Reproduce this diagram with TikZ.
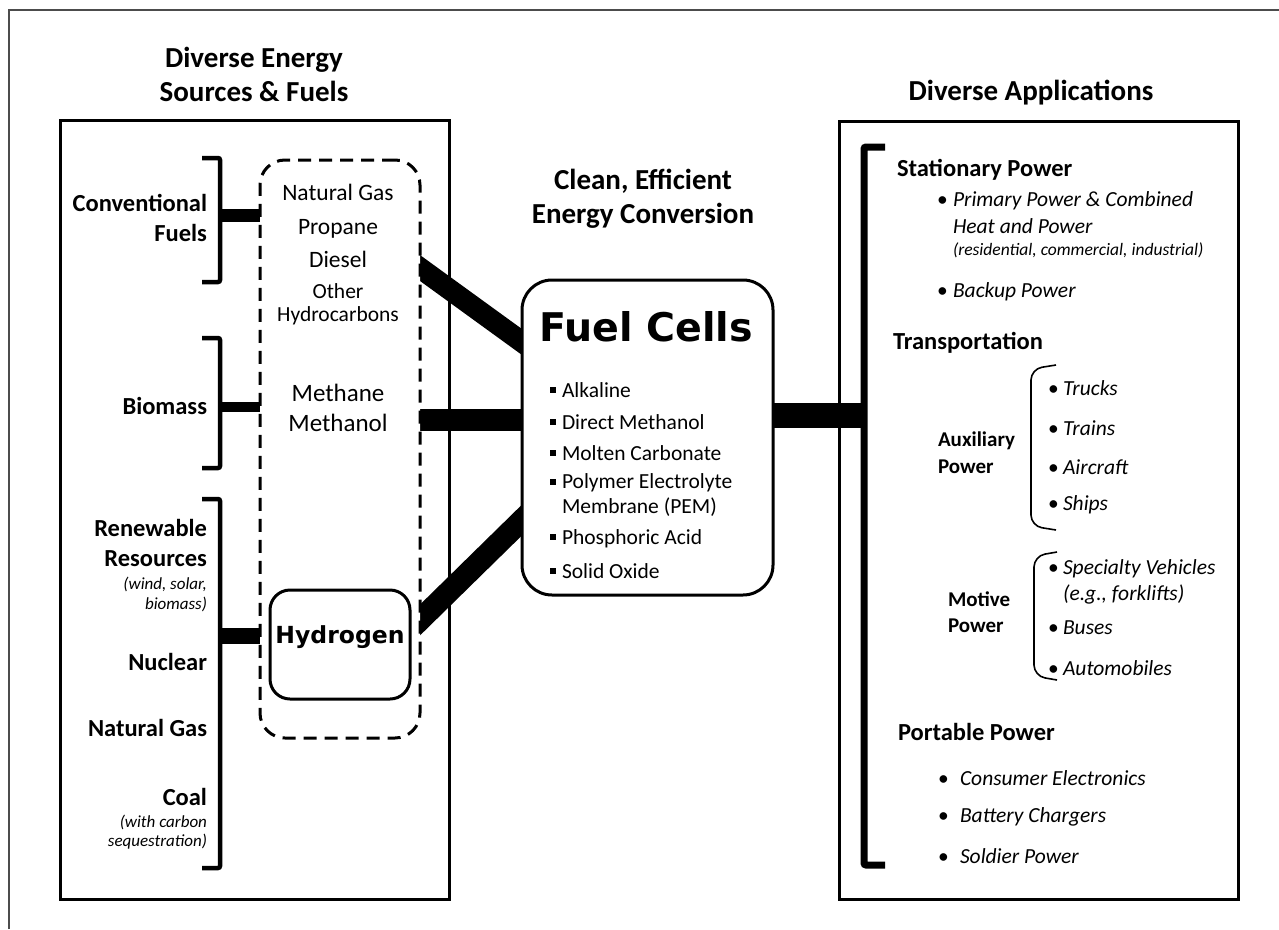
\documentclass[tikz,border=0pt]{standalone}
\usepackage{fontspec}
\setmainfont{Carlito}
\newfontfamily\heavyfont{DejaVu Sans}
\usetikzlibrary{backgrounds,calc}

\newcommand\fsz[2]{\fontsize{#1}{#2}\selectfont}
\newcommand\sqb{\rule[0.2em]{6pt}{6pt}\hspace{6pt}}
\newcommand\dotb[1]{\makebox[#1][l]{\hspace{-3pt}\upshape\textbullet}}

\begin{document}
\begin{tikzpicture}[x=1pt, y=-1pt,
  every node/.style={inner sep=0pt, outer sep=0pt},
  box/.style={draw, line width=3pt},
  bar/.style={line width=#1},
  brk/.style={line width=#1, rounded corners=2pt},
  brace/.style={line width=1.6pt, rounded corners=11pt},
  title/.style={font=\bfseries\fsz{29}{34}, align=center},
  src/.style={font=\bfseries\fsz{24.5}{30}, align=right, anchor=east},
  note/.style={font=\itshape\fsz{17}{20}, align=right, anchor=east},
  head/.style={font=\bfseries\fsz{24.5}{28}, anchor=west},
  sub/.style={font=\bfseries\fsz{21}{27}, anchor=west, align=left},
  item/.style={font=\itshape\fsz{21.5}{27}, anchor=west, align=left},
  fcitem/.style={font=\fsz{21.5}{25}, anchor=west, align=left}]
\useasboundingbox (0,0) rectangle (1279,929);

% outer frame
\draw[black!70, line width=1.5pt] (9,929) -- (9,10) -- (1279,10);

% titles
\node[title] (srctitle) at (254,74) {Diverse Energy\\Sources \& Fuels};
\node[title] (convtitle) at (643,199) {Clean, Efficient\\Energy Conversion};
\node[title] (apptitle) at (1031,93) {Diverse Applications};

% the two big boxes
\node[box, minimum width=389, minimum height=779] (srcbox) at (254.5,509.5) {};
\node[box, minimum width=399, minimum height=778] (appbox) at (1038.5,510) {};

% fuels
\node[draw, line width=3pt, dash pattern=on 13pt off 8pt, rounded corners=25pt,
  fill=white, minimum width=160, minimum height=578] (fuelbox) at (340,449) {};
\node[align=center, font=\fsz{23.5}{33.5}] (fossil) at (338,226) {Natural Gas\\Propane\\Diesel};
\node[align=center, font=\fsz{21.5}{23}] (other) at (338,304) {Other\\Hydrocarbons};
\node[align=center, font=\fsz{25}{30}] (methane) at (338,408) {Methane\\Methanol};
\node[draw, line width=3pt, rounded corners=20pt, minimum width=140, minimum height=109] (h2) at (340,644.5) {};
\node[font=\heavyfont\bfseries\fsz{23.5}{28}] (h2text) at (340,637) {Hydrogen};

% sources
\draw[brk=4.5pt] (202,158) -- (220,158) -- (220,282) -- (202,282);
\draw[brk=4.5pt] (202,338) -- (220,338) -- (220,468) -- (202,468);
\draw[brk=4.5pt] (202,499) -- (220,499) -- (220,868) -- (202,868);
\coordinate (conv) at (220,215);
\coordinate (bio) at (220,407);
\coordinate (ren) at (220,636);
\node[src] (convfuels) at (207,218) {Conventional\\Fuels};
\node[src] (biomass) at (207,406) {Biomass};
\node[src] (renew) at (207,543) {Renewable\\Resources};
\node[note] (renewnote) at (207,594) {(wind, solar,\\biomass)};
\node[src] (nuclear) at (207,662) {Nuclear};
\node[src] (natgas) at (207,728) {Natural Gas};
\node[src] (coal) at (207,797) {Coal};
\node[note, font=\itshape\fsz{17}{19}] (coalnote) at (207,832) {(with carbon\\sequestration)};

% fuel cells
\node[draw, line width=3pt, rounded corners=30pt, fill=white, minimum width=251, minimum height=315] (fc) at (647.5,437.5) {};
\node[font=\heavyfont\bfseries\fsz{39.5}{44}] (fctitle) at (646,327) {Fuel Cells};
\foreach \y/\txt [count=\i] in {390/Alkaline, 422/Direct Methanol, 453/Molten Carbonate, 539/Phosphoric Acid, 571/Solid Oxide}
  \node[fcitem] (type\i) at (550,\y) {\sqb\txt};
\node[fcitem] (pem) at (550,495.5) {\sqb Polymer Electrolyte\\\hspace*{12pt}Membrane (PEM)};

% connectors
\coordinate (ua) at (420,268);
\coordinate (ub) at (522,342);
\coordinate (la) at (420,620);
\coordinate (lb) at (522,520);
\coordinate (ma) at (420,420);
\coordinate (mb) at (522,420);
\coordinate (app) at (864,415);
\begin{scope}[on background layer]
  \draw[bar=13pt] (conv) -- (conv -| fuelbox.west);
  \draw[bar=10pt] (bio) -- (bio -| fuelbox.west);
  \draw[bar=16pt] (ren) -- (ren -| fuelbox.west);
  \draw[bar=21pt] ($(ua)!-0.3!(ub)$) -- ($(ub)!-0.3!(ua)$);
  \draw[bar=22pt] ($(ma)!-0.3!(mb)$) -- ($(mb)!-0.3!(ma)$);
  \draw[bar=22pt] ($(la)!-0.3!(lb)$) -- ($(lb)!-0.3!(la)$);
  \draw[bar=25pt] (fc.east |- app) -- (app);
\end{scope}

% applications
\draw[brk=7pt] (885,147) -- (864,147) -- (864,865) -- (885,865);
\node[head] (stat) at (897,170) {Stationary Power};
\node[item] (primary) at (940,212.5) {\dotb{13pt}Primary Power \& Combined\\\hspace*{13pt}Heat and Power};
\node[item, font=\itshape\fsz{17.5}{20}] (primnote) at (953,250) {(residential, commercial, industrial)};
\node[item] (backup) at (940,292) {\dotb{13pt}Backup Power};
\node[head] (trans) at (893,343) {Transportation};

\node[sub] (aux) at (938,452.5) {Auxiliary\\Power};
\draw[brace] (1056,365) -- (1031,369) -- (1031,526) -- (1056,530);
\foreach \y/\txt [count=\i] in {388/Trucks, 428/Trains, 467/Aircraft, 505/Ships}
  \node[item] (aux\i) at (1051,\y) {\dotb{12pt}\txt};

\node[sub, font=\bfseries\fsz{21}{26}] (motive) at (948,612) {Motive\\Power};
\draw[brace] (1057,552) -- (1034,556) -- (1034,676) -- (1057,680);
\node[item, font=\itshape\fsz{21.5}{26}] (special) at (1051,582) {\dotb{12pt}Specialty Vehicles\\\hspace*{12pt}(e.g., forklifts)};
\node[item] (buses) at (1051,628) {\dotb{12pt}Buses};
\node[item] (autos) at (1051,668) {\dotb{12pt}Automobiles};

\node[head] (port) at (898,732) {Portable Power};
\foreach \y/\txt [count=\i] in {778/Consumer Electronics, 817/Battery Chargers, 856/Soldier Power}
  \node[item] (port\i) at (941,\y) {\dotb{19pt}\txt};
\end{tikzpicture}
\end{document}
